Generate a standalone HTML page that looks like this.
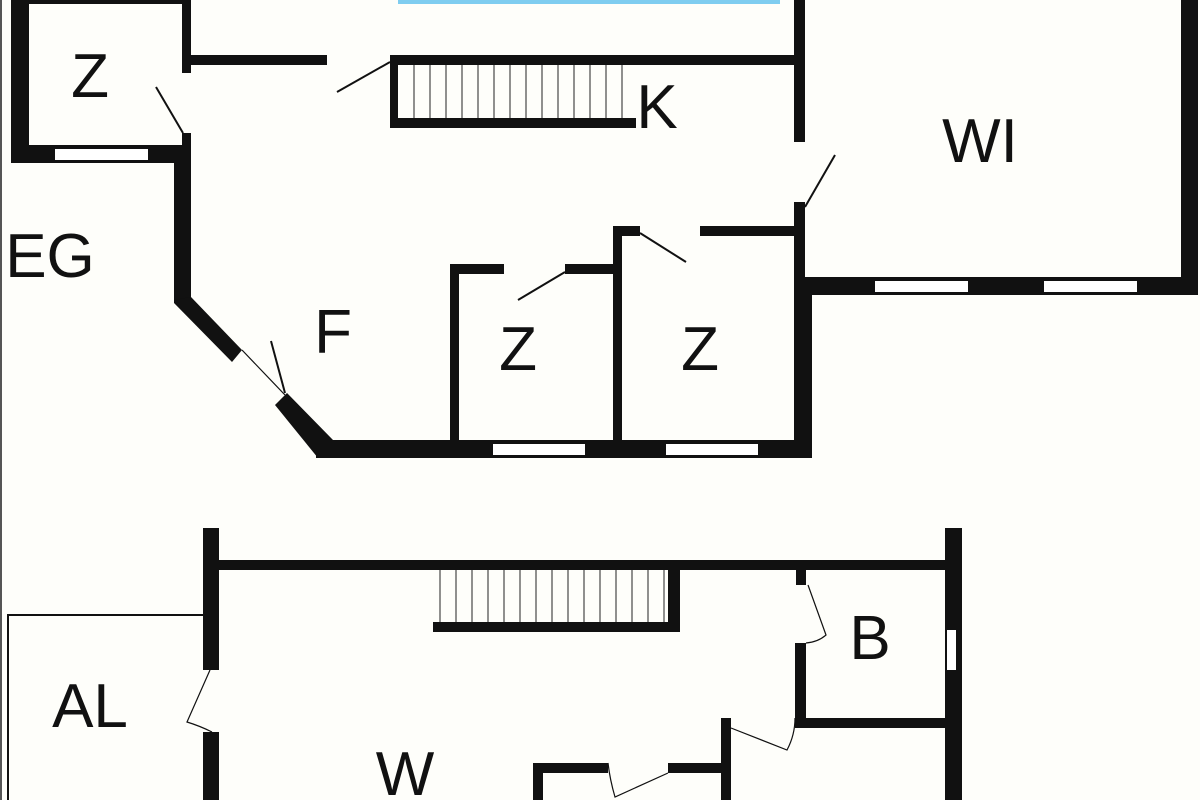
<!DOCTYPE html>
<html><head><meta charset="utf-8"><style>
html,body{margin:0;padding:0;background:#fefefa;}
svg{display:block;}
text{font-family:"Liberation Sans",sans-serif;font-size:62px;fill:#111;}
</style></head><body>
<svg width="1200" height="800" viewBox="0 0 1200 800" xmlns="http://www.w3.org/2000/svg">
<rect width="1200" height="800" fill="#fefefa"/>
<rect x="0" y="0" width="2" height="800" fill="#555"/>
<rect x="398" y="0" width="382" height="4" fill="#7fcdf0"/>
<g fill="#111">
<rect x="11" y="0" width="18" height="163"/>
<rect x="11" y="0" width="180" height="4"/>
<rect x="182" y="0" width="9" height="73"/>
<rect x="182" y="133" width="9" height="30"/>
<rect x="11" y="145" width="180" height="18"/>
<rect x="191" y="55" width="136" height="10"/>
<rect x="390" y="55" width="404" height="10"/>
<rect x="390" y="55" width="8" height="73"/>
<rect x="390" y="118" width="246" height="10"/>
<rect x="794" y="0" width="11" height="142"/>
<rect x="794" y="202" width="11" height="80"/>
<rect x="1181" y="0" width="17" height="295"/>
<rect x="794" y="277" width="404" height="18"/>
<rect x="794" y="277" width="18" height="181"/>
<rect x="613" y="226" width="27" height="10"/>
<rect x="700" y="226" width="100" height="10"/>
<rect x="613" y="226" width="9" height="220"/>
<rect x="450" y="264" width="54" height="10"/>
<rect x="565" y="264" width="50" height="10"/>
<rect x="450" y="264" width="9" height="180"/>
<rect x="174" y="163" width="17" height="137"/>
<rect x="316" y="440" width="496" height="18"/>
<polygon points="174,300 191,297 242,350 232,362 174,303"/>
<polygon points="287,393 333,440 333,458 318,458 275,405"/>
<rect x="203" y="528" width="16" height="142"/>
<rect x="203" y="732" width="16" height="68"/>
<rect x="203" y="560" width="757" height="10"/>
<rect x="945" y="528" width="17" height="272"/>
<rect x="433" y="622" width="247" height="10"/>
<rect x="668" y="570" width="12" height="62"/>
<rect x="796" y="570" width="10" height="15"/>
<rect x="795" y="643" width="11" height="85"/>
<rect x="795" y="718" width="150" height="10"/>
<rect x="721" y="718" width="10" height="82"/>
<rect x="533" y="763" width="75" height="10"/>
<rect x="533" y="763" width="10" height="37"/>
<rect x="668" y="763" width="55" height="10"/>
</g>
<g fill="#fff">
<rect x="55" y="149" width="93" height="11"/>
<rect x="493" y="444" width="92" height="11"/>
<rect x="666" y="444" width="92" height="11"/>
<rect x="875" y="281" width="93" height="11"/>
<rect x="1044" y="281" width="93" height="11"/>
<rect x="947" y="630" width="9" height="40"/>
</g>
<g stroke="#222" stroke-width="1">
<path d="M414,65V118M430,65V118M446,65V118M462,65V118M478,65V118M494,65V118M510,65V118M526,65V118M542,65V118M558,65V118M574,65V118M590,65V118M606,65V118M622,65V118"/>
<path d="M440,570V622M456,570V622M472,570V622M488,570V622M504,570V622M520,570V622M536,570V622M552,570V622M568,570V622M584,570V622M600,570V622M616,570V622M632,570V622M648,570V622M664,570V622"/>
</g>
<g stroke="#111" stroke-width="2" fill="none">
<path d="M156,87L183,133"/>
<path d="M337,92L390,62"/>
<path d="M805,207L835,155"/>
<path d="M640,233L686,262"/>
<path d="M518,300L565,272"/>
<path d="M271,341L285,393"/>
</g>
<g stroke="#111" stroke-width="1.2" fill="none">
<path d="M242,350L285,395"/>
<path d="M210,670L187,722Q200,726 212,732"/>
<path d="M808,585L826,635Q818,642 806,643"/>
<path d="M731,728L787,750Q795,735 795,718"/>
<path d="M668,773L615,797Q610,780 608,763"/>
<path d="M205,615H8V805" stroke-width="2"/>
</g>
<text x="90" y="97" text-anchor="middle">Z</text>
<text x="657" y="128" text-anchor="middle">K</text>
<text x="980" y="162" text-anchor="middle">WI</text>
<text x="50" y="277" text-anchor="middle">EG</text>
<text x="333" y="353" text-anchor="middle">F</text>
<text x="518" y="370" text-anchor="middle">Z</text>
<text x="700" y="370" text-anchor="middle">Z</text>
<text x="90" y="727" text-anchor="middle">AL</text>
<text x="870" y="659" text-anchor="middle">B</text>
<text x="405" y="795" text-anchor="middle">W</text>
</svg>
</body></html>
